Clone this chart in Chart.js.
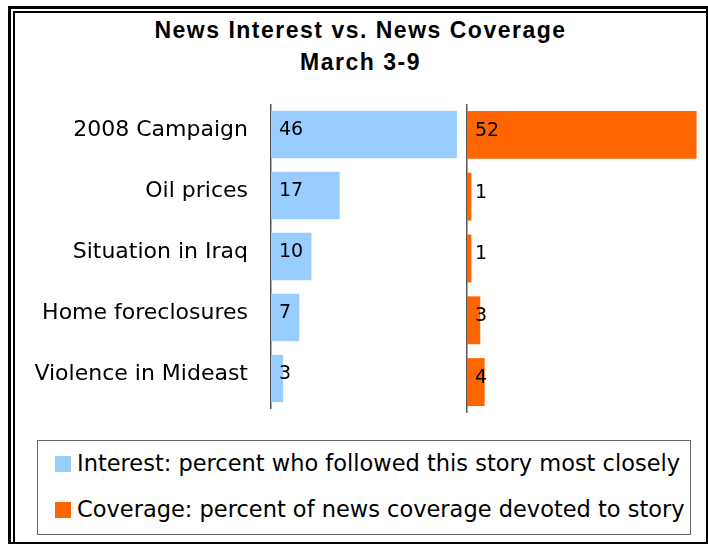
<!DOCTYPE html>
<html>
<head>
<meta charset="utf-8">
<script src="https://cdn.jsdelivr.net/npm/chart.js@4.4.1/dist/chart.umd.min.js"></script>
<style>
  html, body { margin: 0; padding: 0; background: #fff; }
  #page { position: relative; width: 708px; height: 545px; overflow: hidden; font-family: "DejaVu Sans", Verdana, sans-serif; }
  #outer { position: absolute; left: 8px; top: 6px; right: 0; bottom: 1px; border-left: 3px solid #000; border-top: 3px solid #000; border-right: 2px solid #000; border-bottom: 2px solid #000; }
  #inner { position: absolute; left: 13px; top: 11px; right: 2px; bottom: 3px; border-left: 2px solid #000; border-top: 2px solid #000; }
  #title { position: absolute; left: 15px; width: 691px; top: 14px; text-align: center; font: bold 23px "Liberation Sans", Arial, sans-serif; letter-spacing: 1.5px; line-height: 32px; color: #000; }
  canvas { position: absolute; }
  #legend { position: absolute; left: 37px; top: 440px; width: 652px; height: 93px; border: 1px solid #666; }
  .item { position: absolute; left: 17px; font-size: 22.5px; line-height: 26px; color: #000; white-space: nowrap; }
  .sw { display: inline-block; width: 16px; height: 16px; margin-right: 6px; vertical-align: -1px; }
</style>
</head>
<body>
<div id="page">
  <div id="outer"></div>
  <div id="inner"></div>
  <div id="title">News Interest vs. News Coverage<br>March 3-9</div>
  <canvas id="interestChart" width="461" height="305" style="left:0;top:104px"></canvas>
  <canvas id="coverageChart" width="244" height="309" style="left:457px;top:104px"></canvas>
  <div id="legend">
    <div class="item" style="top:9px"><span class="sw" style="background:#99CCFF"></span>Interest: percent who followed this story most closely</div>
    <div class="item" style="top:55px"><span class="sw" style="background:#FF6600"></span>Coverage: percent of news coverage devoted to story</div>
  </div>
</div>
<script>
// chart data
const stories = ['2008 Campaign', 'Oil prices', 'Situation in Iraq', 'Home foreclosures', 'Violence in Mideast'];
const interest = [46, 17, 10, 7, 3];
const coverage = [52, 1, 1, 3, 4];

Chart.defaults.font.family = '"DejaVu Sans", Verdana, sans-serif';
Chart.defaults.color = '#000';

// draws the number just inside the start of every bar
const barValues = {
  id: 'barValues',
  afterDatasetsDraw(chart) {
    const ctx = chart.ctx;
    ctx.save();
    ctx.font = '19px "DejaVu Sans", Verdana, sans-serif';
    ctx.fillStyle = '#000';
    ctx.textBaseline = 'middle';
    ctx.textAlign = 'left';
    const ds = chart.data.datasets[0];
    chart.getDatasetMeta(0).data.forEach(function (bar, i) {
      ctx.fillText(ds.data[i], bar.base + 8, bar.y - 4);
    });
    ctx.restore();
  }
};

function makeChart(id, values, color, max, showLabels, axisWidth) {
  return new Chart(document.getElementById(id), {
    type: 'bar',
    data: {
      labels: stories,
      datasets: [{
        data: values,
        backgroundColor: color,
        borderWidth: 0,
        barPercentage: 1,
        categoryPercentage: 0.775
      }]
    },
    options: {
      indexAxis: 'y',
      responsive: false,
      animation: false,
      devicePixelRatio: 1,
      layout: { padding: 0 },
      scales: {
        x: { display: false, min: 0, max: max },
        y: {
          afterFit: function (scale) {
            scale.width = axisWidth;
            scale.paddingTop = 0;
            scale.paddingBottom = 0;
          },
          grid: { display: false },
          border: { display: true, color: '#555', width: 1.5 },
          ticks: {
            display: showLabels,
            padding: 15,
            labelOffset: -4,
            font: { size: 22 },
            color: '#000'
          }
        }
      },
      plugins: {
        legend: { display: false },
        tooltip: { enabled: false }
      }
    },
    plugins: [barValues]
  });
}

makeChart('interestChart', interest, '#99CCFF', 47, true, 271);
makeChart('coverageChart', coverage, '#FF6600', 53, false, 10);
</script>
</body>
</html>
